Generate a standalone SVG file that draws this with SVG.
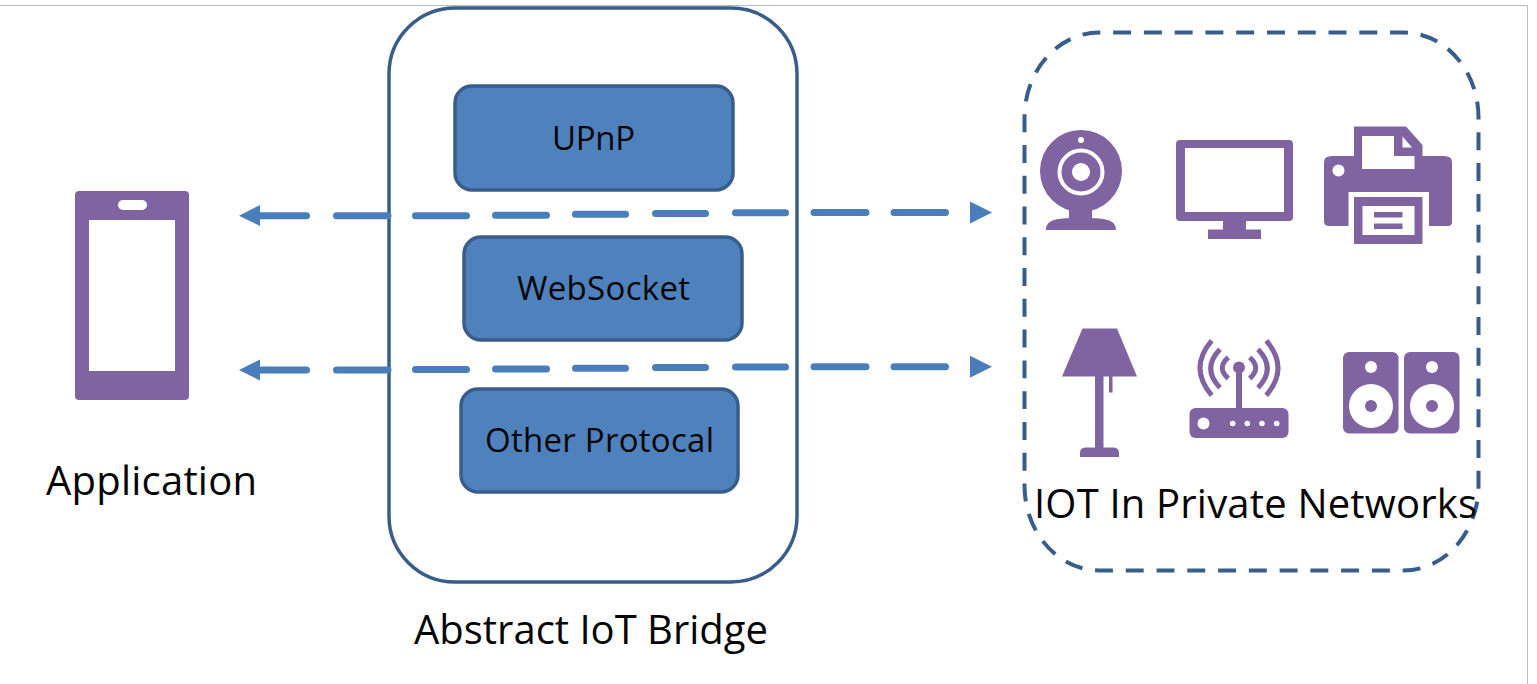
<svg xmlns="http://www.w3.org/2000/svg" width="1537" height="684" viewBox="0 0 1537 684">
<style>
text{font-family:"Open Sans","Noto Sans","DejaVu Sans",sans-serif;fill:#050505}
.lbl{font-size:40px}
.box{fill:#4f81bd;stroke:#385d8a;stroke-width:3.5}
.ic{fill:#8064a2}
.hole{fill:#fff}
.conn{fill:none;stroke:#4a7ebb;stroke-width:7;stroke-linecap:round}
.head{fill:#4a7ebb}
</style>
<rect width="1537" height="684" fill="#fff"/>
<path d="M0 5.500H1527.500V684" fill="none" stroke="#bcbcbc" stroke-width="1"/>
<g id="bridge">
<rect x="389" y="8" width="408" height="574" rx="66" fill="#fff" stroke="#385d8a" stroke-width="3.500"/>
<text class="lbl" x="591" y="644" text-anchor="middle" textLength="354">Abstract IoT Bridge</text>
</g>
<g id="upnp"><rect class="box" x="455" y="86" width="278" height="104" rx="17"/><text x="593.500" y="150" font-size="33" text-anchor="middle" textLength="83">UPnP</text></g>
<g id="websocket"><rect class="box" x="464" y="237" width="278" height="103" rx="17"/><text x="603.500" y="300" font-size="33" text-anchor="middle" textLength="173">WebSocket</text></g>
<g id="other"><rect class="box" x="461" y="389" width="277" height="103" rx="17"/><text x="599.500" y="452" font-size="33" text-anchor="middle" textLength="229">Other Protocal</text></g>
<g id="connectors">
<path class="conn" d="M260 215.700H306.500M336.500 215.700H388M415.500 215.700H466.500M495.500 215.300H546.500M575.500 214.200H625.500M655.500 213.500H705.500M735.500 212.800H785.500M814 212.500H866M894 212.500H945.500"/>
<path class="head" d="M239 215.700L260 205V226Z"/>
<path class="head" d="M992 212.500L970 201.500V223.500Z"/>
<path class="conn" d="M260 370H306.500M336.500 370H388M415.500 369.500H466.500M495.500 369H546.500M575.500 368.200H625.500M655.500 367.500H705.500M735.500 366.900H785.500M814 366.700H866M894 366.700H945.500"/>
<path class="head" d="M239 370L260 359.500V380.500Z"/>
<path class="head" d="M992 366.700L970 355.700V377.700Z"/>
</g>
<g id="application">
<path class="ic" d="M79 191H185Q189 191 189 195V396Q189 400 185 400H79Q75 400 75 396V195Q75 191 79 191Z"/>
<rect class="hole" x="89" y="220" width="86" height="151"/>
<rect class="hole" x="118" y="200" width="29" height="10" rx="5"/>
<text class="lbl" x="151.500" y="495" text-anchor="middle" textLength="211">Application</text>
</g>
<g id="private-networks">
<rect x="1024.500" y="32.500" width="454" height="538" rx="75" ry="85" pathLength="1830" fill="none" stroke="#385d8a" stroke-width="4" stroke-dasharray="17.800 12.700" stroke-dashoffset="17"/>
<text class="lbl" x="1255.500" y="518" text-anchor="middle" textLength="443">IOT In Private Networks</text>
</g>
<g id="webcam">
<circle class="ic" cx="1081" cy="171" r="41"/>
<path class="ic" d="M1069 205H1092V218C1104 219 1116 219 1116 230H1046C1046 219 1058 219 1069 218Z"/>
<circle cx="1081" cy="140" r="3" class="hole"/>
<circle cx="1081" cy="172" r="21.500" fill="none" stroke="#fff" stroke-width="4"/>
<circle cx="1081" cy="172" r="9" class="hole"/>
</g>
<g id="monitor">
<path class="ic" fill-rule="evenodd" d="M1180 140H1289Q1293 140 1293 144V217Q1293 221 1289 221H1246V229.500H1261V239H1208V229.500H1223V221H1180Q1176 221 1176 217V144Q1176 140 1180 140ZM1185 148V212H1284V148Z"/>
</g>
<g id="printer">
<path class="ic" fill-rule="evenodd" d="M1354 126.500H1406L1422.500 145V156H1444Q1452 156 1452 162V222Q1452 226 1448 226H1429V192H1348.500V226H1329Q1324 226 1324 221V162Q1324 156 1332 156H1354ZM1362 136V169H1414.500V156H1394V136ZM1402.500 136.500V147.500H1412Z"/>
<circle cx="1338.500" cy="170.500" r="6" class="hole"/>
<path class="ic" fill-rule="evenodd" d="M1354 197H1422.500V244H1354ZM1362.500 206V235H1414.500V206ZM1374 212H1402.500V217.500H1374ZM1374 223.500H1402.500V229H1374Z"/>
</g>
<g id="lamp">
<path class="ic" d="M1082.500 328.500H1117L1137 376.500H1062Z"/>
<path class="ic" d="M1095 376H1103.500V447.500H1113Q1119 447.500 1119 453V457H1080V453Q1080 447.500 1086 447.500H1095Z"/>
<rect class="ic" x="1109" y="376" width="3.500" height="16.500"/>
</g>
<g id="router">
<rect class="ic" x="1189.500" y="408" width="99" height="30" rx="6"/>
<rect class="ic" x="1236" y="367" width="6" height="43"/>
<circle class="ic" cx="1239" cy="367.500" r="6"/>
<circle class="hole" cx="1203.500" cy="423.500" r="6"/>
<circle class="hole" cx="1232.700" cy="423.500" r="2.800"/>
<circle class="hole" cx="1247.300" cy="423.500" r="2.800"/>
<circle class="hole" cx="1262" cy="423.500" r="2.800"/>
<circle class="hole" cx="1276.700" cy="423.500" r="2.800"/>
<g fill="none" stroke="#8064a2" stroke-width="5">
<path d="M1228.300 357.300Q1216.300 368 1228.300 378.500M1249.700 357.300Q1261.700 368 1249.700 378.500"/>
<path d="M1220 349.300Q1201.400 368.500 1220 387.700M1258 349.300Q1276.600 368.500 1258 387.700"/>
<path d="M1211.700 340.700Q1188.300 368 1211.700 395.300M1266.300 340.700Q1289.700 368 1266.300 395.300"/>
</g>
</g>
<g id="speakers">
<rect class="ic" x="1343" y="352" width="55.500" height="81.500" rx="6"/>
<rect class="ic" x="1404" y="352" width="55.500" height="81.500" rx="6"/>
<circle class="hole" cx="1371" cy="367" r="6"/><circle class="hole" cx="1432" cy="367" r="6"/>
<circle class="hole" cx="1371" cy="406" r="22"/><circle class="hole" cx="1432" cy="406" r="22"/>
<circle class="ic" cx="1371" cy="406" r="6"/><circle class="ic" cx="1432" cy="406" r="6"/>
</g>
</svg>
